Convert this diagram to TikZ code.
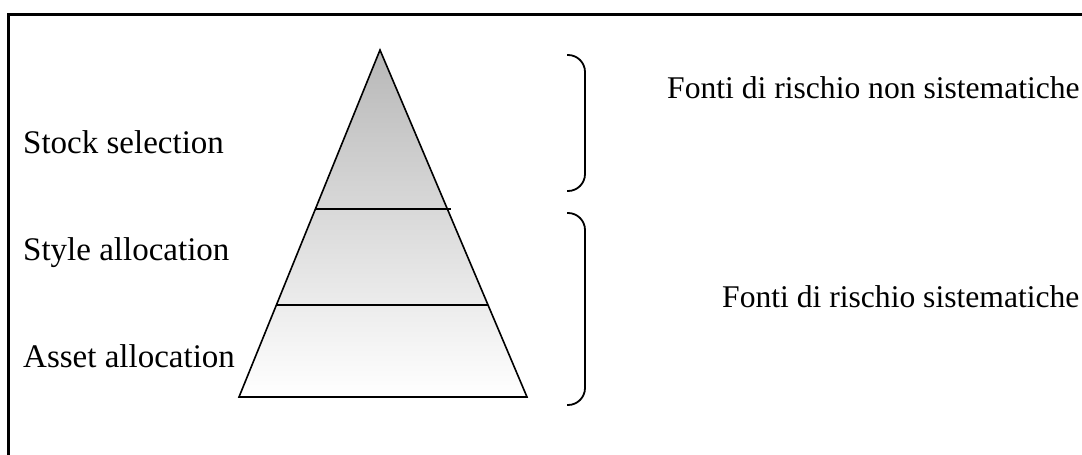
\documentclass[tikz,border=0pt]{standalone}
\usepackage{fontspec}
\setmainfont{Liberation Serif}
\begin{document}
\begin{tikzpicture}[x=1pt,y=-1pt,
  lbl/.style={anchor=base west,inner sep=0pt,font=\fontsize{33}{39}\selectfont},
  rlbl/.style={anchor=base west,inner sep=0pt,font=\fontsize{31.6}{38}\selectfont},
  edge/.style={line width=1.6pt,line join=miter},
  brace/.style={line width=1.8pt,rounded corners=17pt}]
\useasboundingbox (0,0) rectangle (1082,455);
\begin{scope}
\clip (0,0) rectangle (1082,455);
\draw[line width=3pt] (8.5,14.5) rectangle (1110,480);
\end{scope}
% pyramid
\coordinate (apex) at (380,50);
\coordinate (bl) at (239,397);
\coordinate (br) at (527,397);
\shade[top color=black!28, bottom color=white] (apex) -- (bl) -- (br) -- cycle;
\draw[edge] (apex) -- (bl) -- (br) -- cycle;
\coordinate (l1a) at (315,209);
\coordinate (l1b) at (451,209);
\coordinate (l2a) at (276,305);
\coordinate (l2b) at (488,305);
\draw[edge] (l1a) -- (l1b);
\draw[edge] (l2a) -- (l2b);
% labels
\node[lbl] (ss) at (23,153) {Stock selection};
\node[lbl] (sa) at (23,260) {Style allocation};
\node[lbl] (aa) at (23,367) {Asset allocation};
\node[rlbl] (ns) at (667,98) {Fonti di rischio non sistematiche};
\node[rlbl] (si) at (722,307) {Fonti di rischio sistematiche};
% braces
\coordinate (b1s) at (567,55);
\coordinate (b1e) at (567,191);
\coordinate (b2s) at (567,213);
\coordinate (b2e) at (567,405);
\draw[brace] (b1s) -- (585,55) -- (585,191) -- (b1e);
\draw[brace] (b2s) -- (585,213) -- (585,405) -- (b2e);
\end{tikzpicture}
\end{document}
